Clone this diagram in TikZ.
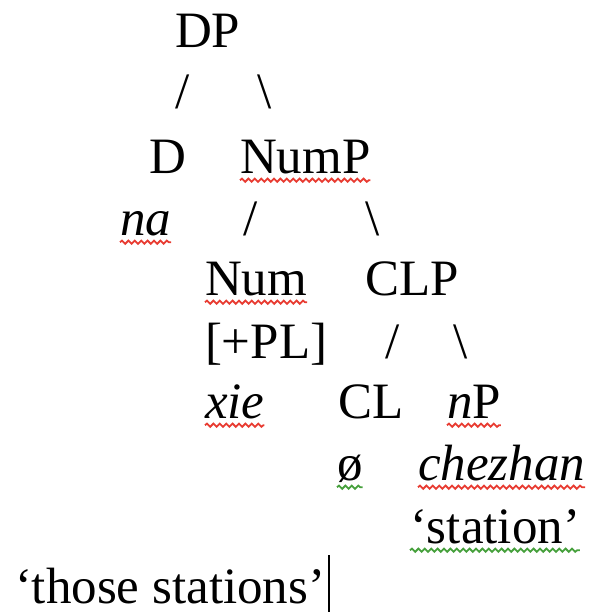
\documentclass[tikz,border=0pt]{standalone}
\usepackage{fontspec}
\setmainfont{Liberation Serif}
\usetikzlibrary{decorations.pathmorphing}
\tikzset{
  w/.style={anchor=base west, inner sep=0pt, outer sep=0pt, font=\fontsize{25.5}{30}\selectfont},
  redwave/.style={draw={rgb,255:red,232;green,60;blue,50}, line width=0.9pt, decorate, decoration={snake, amplitude=0.8pt, segment length=3.2pt}},
  greenwave/.style={draw={rgb,255:red,70;green,160;blue,60}, line width=0.9pt, decorate, decoration={snake, amplitude=0.8pt, segment length=3.2pt}},
}
\begin{document}
\begin{tikzpicture}[x=0.5pt,y=-0.5pt]
\useasboundingbox (0,0) rectangle (599,616);
% rows
\node[w] (dp) at (175,47) {DP};
\node[w] (s1) at (175,108) {/};
\node[w] (b1) at (257,108) {\textbackslash};
\node[w] (d) at (149,173) {D};
\node[w] (nump) at (240,173) {NumP};
\node[w] (na) at (120,235) {\textit{na}};
\node[w] (s2) at (243,235) {/};
\node[w] (b2) at (365,235) {\textbackslash};
\node[w] (num) at (205,295) {Num};
\node[w] (clp) at (365,295) {CLP};
\node[w] (pl) at (205,358) {[+PL]};
\node[w] (s3) at (385,358) {/};
\node[w] (b3) at (453,358) {\textbackslash};
\node[w] (xie) at (205,418) {\textit{xie}};
\node[w] (cl) at (338,418) {CL};
\node[w] (np) at (447,418) {\textit{n}P};
\node[w] (o) at (337,480) {ø};
\node[w] (chezhan) at (418,480) {\textit{chezhan}};
\node[w] (station) at (410,543) {‘station’};
\node[w] (those) at (15,603) {‘those stations’};
% spell-check underlines
\foreach \n in {nump,na,num,xie,np,chezhan}
  \draw[redwave] ([yshift=-3.6pt]\n.base west) -- ([yshift=-3.6pt]\n.base east);
\foreach \n in {o,station}
  \draw[greenwave] ([yshift=-3.6pt]\n.base west) -- ([yshift=-3.6pt]\n.base east);
% cursor
\coordinate (c1) at ([xshift=2pt,yshift=24pt]those.base east);
\coordinate (c2) at ([xshift=2pt,yshift=-4.5pt]those.base east);
\draw[line width=0.8pt] (c1) -- (c2);
\end{tikzpicture}
\end{document}
